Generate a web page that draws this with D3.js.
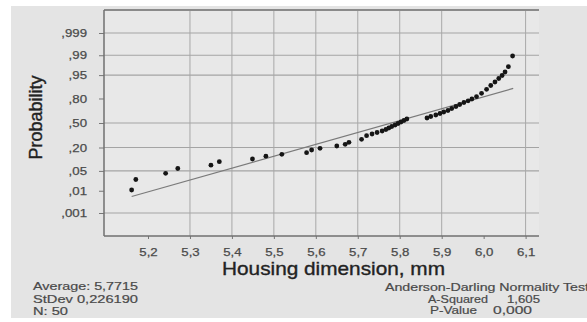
<!DOCTYPE html>
<html><head><meta charset="utf-8">
<script src="https://cdn.jsdelivr.net/npm/d3@7"></script>
<style>
html,body{margin:0;padding:0;background:#fff;}
svg{display:block;}
text{font-family:"Liberation Sans",Arial,Helvetica,sans-serif;}
</style>
</head><body>
<svg id="chart" width="587" height="322"></svg>
<script>
// ---- data ----
const dimension = [5.161,5.171,5.242,5.271,5.350,5.370,5.449,5.481,5.519,5.578,
  5.590,5.610,5.650,5.670,5.679,5.709,5.721,5.734,5.746,5.758,
  5.767,5.774,5.781,5.789,5.796,5.803,5.810,5.817,5.865,5.874,
  5.886,5.896,5.905,5.915,5.924,5.934,5.943,5.953,5.963,5.972,
  5.983,5.995,6.007,6.017,6.027,6.036,6.044,6.051,6.059,6.069];
const probability = [0.0107,0.0262,0.0421,0.0592,0.0737,0.0920,0.1083,0.1272,0.1412,0.1539,
  0.177,0.1925,0.2148,0.2324,0.2537,0.2878,0.3314,0.3528,0.3722,0.3917,
  0.4117,0.4318,0.4522,0.4726,0.4932,0.5137,0.5342,0.5546,0.5682,0.5883,
  0.6083,0.6278,0.6472,0.6661,0.6907,0.7147,0.7373,0.7593,0.7770,0.795,
  0.8167,0.8461,0.8764,0.901,0.9203,0.9367,0.9485,0.960,0.9734,0.9893];
const fitLineX = [5.161, 6.0705];
const fitLineP = [0.0058, 0.8826];

const probTicks = [0.001,0.01,0.05,0.20,0.50,0.80,0.95,0.99,0.999];
const probTickLabels = [",001",",01",",05",",20",",50",",80",",95",",99",",999"];
const probGrid = [0.001,0.05,0.20,0.50,0.95,0.99,0.999];
const xTicks = [5.2,5.3,5.4,5.5,5.6,5.7,5.8,5.9,6.0,6.1];
const xTickLabels = ["5,2","5,3","5,4","5,5","5,6","5,7","5,8","5,9","6,0","6,1"];
const xGrid = [5.3,5.4,5.5,5.6,5.7,5.8,5.9,6.1];

const xTitle = "Housing dimension, mm";
const yTitle = "Probability";
const statsLeft = ["Average: 5,7715","StDev 0,226190","N: 50"];
const testTitle = "Anderson-Darling Normality Test";
const testLabels = ["A-Squared","P-Value"];
const testValues = ["1,605","0,000"];

// inverse standard normal CDF (Acklam) for the probability axis
function probit(p){
  const a=[-3.969683028665376e+01,2.209460984245205e+02,-2.759285104469687e+02,1.383577518672690e+02,-3.066479806614716e+01,2.506628277386808e+00];
  const b=[-5.447609879822406e+01,1.615858368580409e+02,-1.556989798598866e+02,6.680131188771972e+01,-1.328068155288572e+01];
  const c=[-7.784894002430293e-03,-3.223964580411365e-01,-2.400758277161838e+00,-2.549732539343734e+00,4.374664141464968e+00,2.938163982698783e+00];
  const d=[7.784695709041462e-03,3.224671290700398e-01,2.445134137142996e+00,3.754408661907416e+00];
  const pl=0.02425, ph=1-pl; let q,r;
  if(p<pl){q=Math.sqrt(-2*Math.log(p));return (((((c[0]*q+c[1])*q+c[2])*q+c[3])*q+c[4])*q+c[5])/((((d[0]*q+d[1])*q+d[2])*q+d[3])*q+1);}
  if(p<=ph){q=p-0.5;r=q*q;return (((((a[0]*r+a[1])*r+a[2])*r+a[3])*r+a[4])*r+a[5])*q/(((((b[0]*r+b[1])*r+b[2])*r+b[3])*r+b[4])*r+1);}
  q=Math.sqrt(-2*Math.log(1-p));return -(((((c[0]*q+c[1])*q+c[2])*q+c[3])*q+c[4])*q+c[5])/((((d[0]*q+d[1])*q+d[2])*q+d[3])*q+1);
}

const svg = d3.select("#chart");
const plot = {left:104, right:539, top:10, bottom:236};

// background panels
svg.append("rect").attr("x",11).attr("y",6).attr("width",576).attr("height",312).attr("fill","#e4e4e4");
svg.append("rect").attr("x",plot.left).attr("y",plot.top).attr("width",plot.right-plot.left).attr("height",plot.bottom-plot.top).attr("fill","#e8e8e8");

const x = d3.scaleLinear().domain([5.2,6.1]).range([148,525.6]);
const yz = d3.scaleLinear().domain([probit(0.001),probit(0.999)]).range([213,33]);
const y = p => yz(probit(p));

// grid
svg.append("g").selectAll("line").data(probGrid).join("line")
  .attr("x1",plot.left).attr("x2",plot.right)
  .attr("y1",d=>y(d)).attr("y2",d=>y(d))
  .attr("stroke","#a4a4a4").attr("stroke-width",1.1);
svg.append("g").selectAll("line").data(xGrid).join("line")
  .attr("x1",d=>x(d)).attr("x2",d=>x(d))
  .attr("y1",plot.top).attr("y2",plot.bottom)
  .attr("stroke","#a8a8a8").attr("stroke-width",1);

// axes
const yAxis = svg.append("g").attr("transform",`translate(${plot.left},0)`)
  .call(d3.axisLeft(yz).tickValues(probTicks.map(probit))
    .tickFormat((d,i)=>probTickLabels[i]).tickSize(5).tickPadding(12));
yAxis.select(".domain").remove();
yAxis.selectAll(".tick line").attr("stroke","#777");

const xAxis = svg.append("g").attr("transform",`translate(0,${plot.bottom})`)
  .call(d3.axisBottom(x).tickValues(xTicks)
    .tickFormat((d,i)=>xTickLabels[i]).tickSize(3).tickPadding(9));
xAxis.select(".domain").remove();
xAxis.selectAll(".tick line").attr("stroke","#777");

svg.selectAll(".tick text").attr("font-size",11.5).attr("fill","#4a4a4a")
  .attr("stroke","#4a4a4a").attr("stroke-width",0.25)
  .attr("font-family",'"Liberation Sans",Arial,sans-serif')
  .each(function(){
    const w = this.getComputedTextLength();
    d3.select(this).attr("textLength",w*1.15).attr("lengthAdjust","spacingAndGlyphs");
  });

// frame
svg.append("line").attr("x1",plot.left).attr("x2",plot.right).attr("y1",plot.top).attr("y2",plot.top)
  .attr("stroke","#8a8a8a").attr("stroke-width",2);
svg.append("line").attr("x1",plot.left).attr("x2",plot.left).attr("y1",plot.top).attr("y2",plot.bottom)
  .attr("stroke","#707070").attr("stroke-width",1.5);
svg.append("line").attr("x1",plot.left).attr("x2",plot.right).attr("y1",plot.bottom).attr("y2",plot.bottom)
  .attr("stroke","#707070").attr("stroke-width",1.5);

// fitted line
svg.append("line")
  .attr("x1",x(fitLineX[0])).attr("y1",y(fitLineP[0]))
  .attr("x2",x(fitLineX[1])).attr("y2",y(fitLineP[1]))
  .attr("stroke","#7a7a7a").attr("stroke-width",1.2);

// points
svg.append("g").selectAll("circle").data(dimension).join("circle")
  .attr("cx",d=>x(d)).attr("cy",(d,i)=>y(probability[i])).attr("r",2.4)
  .attr("fill","#151515");

// titles
svg.append("text").text(yTitle)
  .attr("transform","translate(42,117.5) rotate(-90)")
  .attr("text-anchor","middle").attr("font-size",18).attr("fill","#222")
  .attr("stroke","#222").attr("stroke-width",0.35)
  .attr("textLength",84).attr("lengthAdjust","spacingAndGlyphs");
svg.append("text").text(xTitle)
  .attr("x",222).attr("y",275).attr("font-size",19).attr("fill","#222")
  .attr("stroke","#222").attr("stroke-width",0.35)
  .attr("textLength",223).attr("lengthAdjust","spacingAndGlyphs");

// stats
const leftLens = [105,105,35];
const leftBase = [290,303,315];
function statText(s,xx,yy,len){
  svg.append("text").text(s).attr("x",xx).attr("y",yy)
    .attr("font-size",11).attr("fill","#4a4a4a")
    .attr("stroke","#4a4a4a").attr("stroke-width",0.2)
    .attr("textLength",len).attr("lengthAdjust","spacingAndGlyphs");
}
statsLeft.forEach((s,i)=>statText(s,33,leftBase[i],leftLens[i]));
statText(testTitle,385,291,204);
const labX=[428,430], labLen=[60,47], valX=[507,493], valLen=[33,39], rowBase=[303,314];
testLabels.forEach((s,i)=>{
  statText(s,labX[i],rowBase[i],labLen[i]);
  statText(testValues[i],valX[i],rowBase[i],valLen[i]);
});
</script>
</body></html>
